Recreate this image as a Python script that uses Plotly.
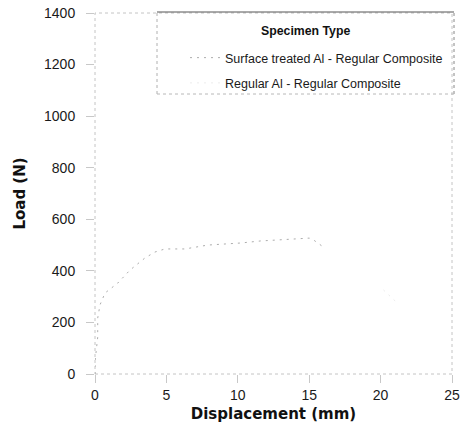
import plotly.graph_objects as go

# Data
surf_x = [0.0, 0.0, 0.19, 0.19, 0.35, 0.7, 1.6, 2.45, 3.5, 4.2, 4.9, 6.3, 7.9, 10.2, 11.6, 13.2, 15.0, 15.3, 15.6, 16.0]
surf_y = [0, 47, 143, 217, 268, 314, 353, 403, 450, 473, 485, 485, 500, 508, 516, 520, 527, 520, 508, 492]
reg_x = [20.2, 21.1]
reg_y = [326, 279]

x_ticks = [0, 5, 10, 15, 20, 25]
y_ticks = [0, 200, 400, 600, 800, 1000, 1200, 1400]

series_names = ["Surface treated Al - Regular Composite", "Regular Al - Regular Composite"]

fig = go.Figure()
fig.add_trace(go.Scatter(x=surf_x, y=surf_y, mode="lines", name=series_names[0],
                         legendgroup="a",
                         line=dict(color="#acacac", width=1, dash="2px,5px")))
fig.add_trace(go.Scatter(x=reg_x, y=reg_y, mode="lines", name=series_names[1],
                         legendgroup="b",
                         line=dict(color="#ececec", width=1, dash="2px,5px")))

tickfont = dict(family="Liberation Sans, Arial, sans-serif", size=14, color="#1a1a1a")
titlefont = dict(family="DejaVu Sans, sans-serif", size=15, color="#111111", weight="bold")

fig.update_xaxes(range=[0, 25], tickvals=x_ticks, ticktext=[str(v) for v in x_ticks],
                 showgrid=False, zeroline=False, showline=False, automargin=False,
                 ticks="outside", ticklen=8, tickcolor="#c8c8c8", tickwidth=1,
                 tickfont=tickfont,
                 title=dict(text="Displacement (mm)", font=titlefont, standoff=6))
fig.update_yaxes(range=[0, 1400], tickvals=y_ticks, ticktext=[str(v) for v in y_ticks],
                 showgrid=False, zeroline=False, showline=False, automargin=False,
                 ticks="outside", ticklen=8, tickcolor="#c8c8c8", tickwidth=1,
                 tickfont=tickfont, ticklabelstandoff=8,
                 title=dict(text="Load (N)", font=titlefont, standoff=14))

# plot frame (faint, dotted as in the scan)
fig.add_shape(type="rect", xref="paper", yref="paper", x0=0, y0=0, x1=1, y1=1,
              line=dict(color="#c4c4c4", width=1, dash="dot"), layer="below")

# legend box
lx0, lx1 = (157 - 95) / 357, (454 - 95) / 357
ly1, ly0 = (374 - 12) / 361, (374 - 94) / 361
fig.add_shape(type="line", xref="paper", yref="paper", x0=lx0, x1=lx1, y0=ly1, y1=ly1,
              line=dict(color="#555555", width=1))
fig.add_shape(type="line", xref="paper", yref="paper", x0=lx0, x1=lx0, y0=ly0, y1=ly1,
              line=dict(color="#b0b0b0", width=1, dash="dot"))
fig.add_shape(type="line", xref="paper", yref="paper", x0=lx1, x1=lx1, y0=ly0, y1=ly1,
              line=dict(color="#888888", width=1, dash="dot"))
fig.add_shape(type="line", xref="paper", yref="paper", x0=lx0, x1=lx1, y0=ly0, y1=ly0,
              line=dict(color="#b8b8b8", width=1, dash="dot"))

fig.add_annotation(text="<b>Specimen Type</b>", xref="paper", yref="paper",
                   x=(305 - 95) / 357, y=(374 - 31) / 361, xanchor="center", yanchor="middle",
                   showarrow=False,
                   font=dict(family="Liberation Sans, Arial, sans-serif", size=12.3, color="#111111"))

fig.update_layout(
    width=464, height=433,
    margin=dict(l=95, r=12, t=13, b=59),
    paper_bgcolor="white", plot_bgcolor="white",
    showlegend=True,
    legend=dict(x=(185 - 95) / 357, y=(374 - 43) / 361, xanchor="left", yanchor="top",
                bgcolor="rgba(0,0,0,0)", borderwidth=0, traceorder="grouped",
                tracegroupgap=6,
                font=dict(family="Liberation Sans, Arial, sans-serif", size=12.5, color="#1a1a1a")),
)

fig.write_html("out.html")
